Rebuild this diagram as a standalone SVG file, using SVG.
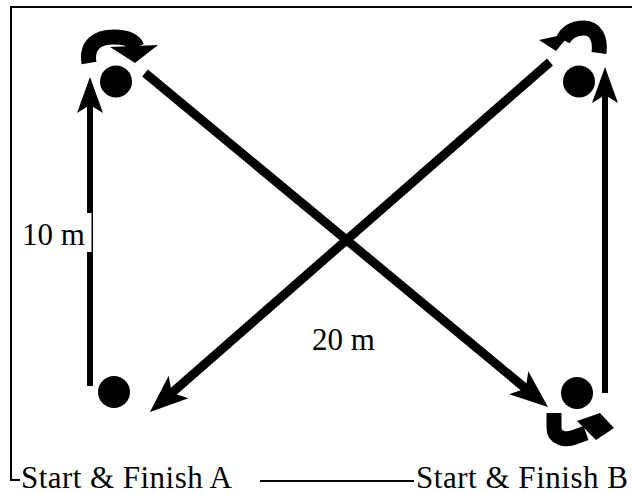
<svg xmlns="http://www.w3.org/2000/svg" width="632" height="494" viewBox="0 0 632 494">
<style>
.frame{fill:none;stroke:#000;stroke-width:2}
.diag{stroke:#000;stroke-width:9;fill:none}
.vert{stroke:#000;stroke-width:6;fill:none}
.turn{stroke:#000;stroke-width:15;fill:none;stroke-linecap:butt;stroke-linejoin:round}
.dot{fill:#000}
.lbl{font-family:"Liberation Serif","Times New Roman",serif;font-size:31px;fill:#000}
</style>
<defs>
<marker id="headD" markerUnits="userSpaceOnUse" viewBox="-20 -16 42 32" refX="0" refY="0" markerWidth="42" markerHeight="32" orient="auto">
<path d="M20 0 L-18 -15 L-9 0 L-18 15 Z" fill="#000"/>
</marker>
<marker id="headV" markerUnits="userSpaceOnUse" viewBox="-20 -14 40 28" refX="0" refY="0" markerWidth="40" markerHeight="28" orient="auto">
<path d="M18 0 L-18 -13 L-10 0 L-18 13 Z" fill="#000"/>
</marker>
</defs>
<g id="frame">
<path class="frame" d="M632 7 H11 V480 H20"/>
<line class="frame" x1="260" y1="481" x2="414" y2="481"/>
</g>
<g id="connectors">
<line class="vert" x1="90" y1="386" x2="90" y2="95" marker-end="url(#headV)"/>
<line class="vert" x1="605" y1="393" x2="605" y2="85" marker-end="url(#headV)"/>
<line class="diag" x1="145" y1="73" x2="532.6" y2="394.2" marker-end="url(#headD)"/>
<line class="diag" x1="550" y1="62" x2="165" y2="398.8" marker-end="url(#headD)"/>
</g>
<g id="turn-top-left">
<path class="turn" d="M89 63 C86 45 97 37 114 37 C126 37 134 40 137 47"/>
<polygon points="110,47 158,45 135,63" fill="#000"/>
</g>
<g id="turn-top-right">
<path class="turn" d="M599 53 C601 38 595 28 584 28 C574 28 567 32 563 40"/>
<polygon points="539,40 571,33 556,51" fill="#000"/>
</g>
<g id="turn-bottom-right">
<path class="turn" d="M554 413 L554 428 C554 438 565 441 575 437 L586 433"/>
<polygon points="577,421 600,413 614,428 596,440" fill="#000"/>
</g>
<g id="cone-top-left"><circle class="dot" cx="116" cy="81.5" r="16"/></g>
<g id="cone-top-right"><circle class="dot" cx="579" cy="81.5" r="16"/></g>
<g id="cone-bottom-left"><circle class="dot" cx="114" cy="392" r="16"/></g>
<g id="cone-bottom-right"><circle class="dot" cx="577" cy="393" r="16"/></g>
<g id="label-10m">
<rect x="13" y="213" width="78.5" height="39" fill="#fff"/>
<text class="lbl" x="22" y="245">10 m</text>
</g>
<g id="label-20m"><text class="lbl" x="312" y="350">20 m</text></g>
<g id="label-start-a"><text class="lbl" x="21" y="488" textLength="211" lengthAdjust="spacing">Start &amp; Finish A</text></g>
<g id="label-start-b"><text class="lbl" x="416" y="488" textLength="212" lengthAdjust="spacing">Start &amp; Finish B</text></g>
</svg>
